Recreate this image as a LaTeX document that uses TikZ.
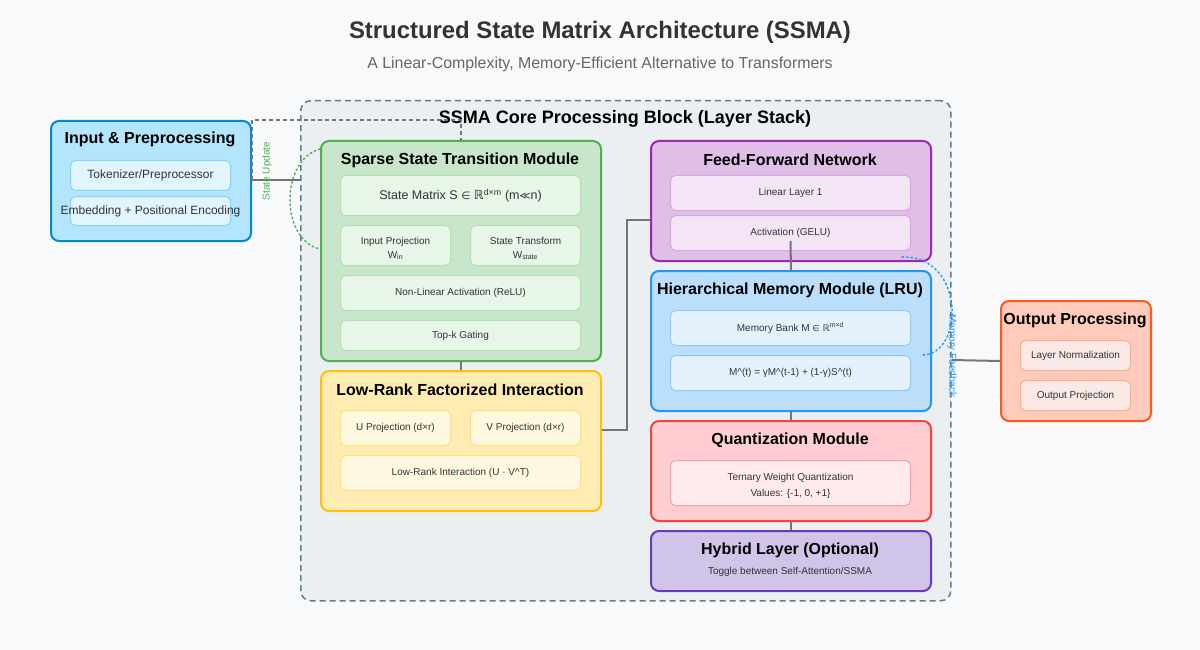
\documentclass[tikz,border=0pt]{standalone}
\usepackage{fontspec}
\setmainfont{Liberation Sans}
\newfontfamily\symf{DejaVu Sans}
\usetikzlibrary{calc}
\definecolor{bg}{HTML}{F8F9FA}
\definecolor{corefill}{HTML}{ECEFF1}
\definecolor{coreline}{HTML}{607D8B}
\definecolor{conn}{HTML}{757575}
\definecolor{ttlc}{HTML}{333333}
\definecolor{subc}{HTML}{666666}
\definecolor{inF}{HTML}{B3E5FC}\definecolor{inL}{HTML}{0288D1}\definecolor{inSF}{HTML}{E1F5FE}\definecolor{inSL}{HTML}{81D4FA}
\definecolor{grF}{HTML}{C8E6C9}\definecolor{grL}{HTML}{4CAF50}\definecolor{grSF}{HTML}{E8F5E9}\definecolor{grSL}{HTML}{B2DFB4}
\definecolor{yeF}{HTML}{FFECB3}\definecolor{yeL}{HTML}{FFC107}\definecolor{yeSF}{HTML}{FFF8E1}\definecolor{yeSL}{HTML}{FFE082}
\definecolor{puF}{HTML}{E1BEE7}\definecolor{puL}{HTML}{9C27B0}\definecolor{puSF}{HTML}{F3E5F5}\definecolor{puSL}{HTML}{D7A8E0}
\definecolor{blF}{HTML}{BBDEFB}\definecolor{blL}{HTML}{2196F3}\definecolor{blSF}{HTML}{E3F2FD}\definecolor{blSL}{HTML}{90CAF9}
\definecolor{reF}{HTML}{FFCDD2}\definecolor{reL}{HTML}{F44336}\definecolor{reSF}{HTML}{FFEBEE}\definecolor{reSL}{HTML}{F3A0A6}
\definecolor{hyF}{HTML}{D1C4E9}\definecolor{hyL}{HTML}{673AB7}
\definecolor{ouF}{HTML}{FFCCBC}\definecolor{ouL}{HTML}{FF5722}\definecolor{ouSF}{HTML}{FBE9E7}\definecolor{ouSL}{HTML}{FFAB91}
\tikzset{
  modbox/.style={draw, line width=2pt, rounded corners=8pt, inner sep=0pt, anchor=north west},
  subbox/.style={draw, line width=1pt, rounded corners=5pt, inner sep=0pt, anchor=north west, align=center, text=ttlc, font=\fontsize{10}{14}\selectfont},
  subtxt/.style={inner sep=0pt, align=center, text=ttlc, font=\fontsize{10}{14}\selectfont},
  modttl/.style={font=\bfseries\fontsize{16}{19}\selectfont, text=black, inner sep=0pt},
  link/.style={draw=conn, line width=2pt},
}
\begin{document}
\begin{tikzpicture}[x=1pt,y=-1pt]
\useasboundingbox (0,0) rectangle (1200,650);
\fill[bg] (0,0) rectangle (1200,650);
% titles
\node[font=\bfseries\fontsize{23.9}{28}\selectfont, text=ttlc] (title) at (600,32) {Structured State Matrix Architecture (SSMA)};
\node[font=\fontsize{15.9}{19}\selectfont, text=subc] (subtitle) at (600,64) {A Linear-Complexity, Memory-Efficient Alternative to Transformers};
% core block
\node[draw=coreline, fill=corefill, line width=1.5pt, dash pattern=on 6pt off 4pt, rounded corners=10pt, minimum width=650pt, minimum height=500pt, anchor=north west, inner sep=0pt] (core) at (300,100) {};
% input
\node[modbox, draw=inL, fill=inF, minimum width=200pt, minimum height=120pt] (inp) at (50,120) {};
\node[modttl] (inpT) at (150,139) {Input \& Preprocessing};
\node[subbox, draw=inSL, fill=inSF, minimum width=160pt, minimum height=30pt, font=\fontsize{12}{14}\selectfont] (tok) at (70,160) {Tokenizer/Preprocessor};
\node[subbox, draw=inSL, fill=inSF, minimum width=160pt, minimum height=29pt] (emb) at (70,196) {};
\node[font=\fontsize{12}{14}\selectfont, text=ttlc, inner sep=0pt] (embT) at (emb.center) {Embedding + Positional Encoding};
% core title
\node[font=\bfseries\fontsize{18}{21}\selectfont, text=black, inner sep=0pt] (coreT) at (625,119) {SSMA Core Processing Block (Layer Stack)};
% green
\node[modbox, draw=grL, fill=grF, minimum width=280pt, minimum height=220pt] (sst) at (320,140) {};
\node[modttl] (sstT) at (460,160) {Sparse State Transition Module};
\node[subbox, draw=grSL, fill=grSF, minimum width=240pt, minimum height=40pt, font=\fontsize{12.5}{14}\selectfont] (smat) at (340,175) {State Matrix S {\symf\fontsize{10.5}{12}\selectfont ∈} {\symf ℝ}\textsuperscript{d×m} (m{\symf\fontsize{10.5}{12}\selectfont ≪}n)};
\node[subbox, draw=grSL, fill=grSF, minimum width=110pt, minimum height=40pt] (inproj) at (340,225) {};
\node[subtxt] (inprojT) at ($(inproj.center)+(0,3)$) {Input Projection\\W\textsubscript{in}};
\node[subbox, draw=grSL, fill=grSF, minimum width=110pt, minimum height=40pt] (stf) at (470,225) {};
\node[subtxt] (stfT) at ($(stf.center)+(0,3)$) {State Transform\\W\textsubscript{state}};
\node[subbox, draw=grSL, fill=grSF, minimum width=240pt, minimum height=35pt] (relu) at (340,275) {Non-Linear Activation (ReLU)};
\node[subbox, draw=grSL, fill=grSF, minimum width=240pt, minimum height=30pt] (topk) at (340,320) {Top-k Gating};
% yellow
\node[modbox, draw=yeL, fill=yeF, minimum width=280pt, minimum height=140pt] (lrf) at (320,370) {};
\node[modttl] (lrfT) at (460,390) {Low-Rank Factorized Interaction};
\node[subbox, draw=yeSL, fill=yeSF, minimum width=110pt, minimum height=35pt] (uproj) at (340,410) {U Projection (d×r)};
\node[subbox, draw=yeSL, fill=yeSF, minimum width=110pt, minimum height=35pt] (vproj) at (470,410) {V Projection (d×r)};
\node[subbox, draw=yeSL, fill=yeSF, minimum width=240pt, minimum height=35pt] (lri) at (340,455) {Low-Rank Interaction (U · V\^{}T)};
% purple FFN
\node[modbox, draw=puL, fill=puF, minimum width=280pt, minimum height=120pt] (ffn) at (650,140) {};
\node[modttl] (ffnT) at (790,160) {Feed-Forward Network};
\node[subbox, draw=puSL, fill=puSF, minimum width=240pt, minimum height=35pt] (lin) at (670,175) {Linear Layer 1};
\node[subbox, draw=puSL, fill=puSF, minimum width=240pt, minimum height=35pt] (act) at (670,215) {Activation (GELU)};
% blue memory
\node[modbox, draw=blL, fill=blF, minimum width=280pt, minimum height=140pt] (mem) at (650,270) {};
\node[modttl] (memT) at (790,290) {Hierarchical Memory Module (LRU)};
\node[subbox, draw=blSL, fill=blSF, minimum width=240pt, minimum height=35pt] (bank) at (670,310) {Memory Bank M {\symf\fontsize{8.5}{10}\selectfont ∈} {\symf\fontsize{9}{10}\selectfont ℝ}\textsuperscript{m×d}};
\node[subbox, draw=blSL, fill=blSF, minimum width=240pt, minimum height=35pt] (upd) at (670,355) {M\^{}(t) = γM\^{}(t-1) + (1-γ)S\^{}(t)};
% red quant
\node[modbox, draw=reL, fill=reF, minimum width=280pt, minimum height=100pt] (qnt) at (650,420) {};
\node[modttl] (qntT) at (790,440) {Quantization Module};
\node[subbox, draw=reSL, fill=reSF, minimum width=240pt, minimum height=45pt] (tern) at (670,460) {};
\node[subtxt, font=\fontsize{10}{16}\selectfont] (ternT) at ($(tern.center)+(0,2.5)$) {Ternary Weight Quantization\\Values: \{-1, 0, +1\}};
% hybrid
\node[modbox, draw=hyL, fill=hyF, minimum width=280pt, minimum height=60pt] (hyb) at (650,530) {};
\node[modttl] (hybT) at (790,550) {Hybrid Layer (Optional)};
\node[font=\fontsize{10}{12}\selectfont, text=ttlc, inner sep=0pt] (hybS) at (790,572) {Toggle between Self-Attention/SSMA};
% output
\node[modbox, draw=ouL, fill=ouF, minimum width=150pt, minimum height=120pt] (outp) at (1000,300) {};
\node[modttl] (outT) at (1075,320) {Output Processing};
\node[subbox, draw=ouSL, fill=ouSF, minimum width=110pt, minimum height=30pt] (lnorm) at (1020,340) {Layer Normalization};
\node[subbox, draw=ouSL, fill=ouSF, minimum width=110pt, minimum height=30pt] (oproj) at (1020,380) {Output Projection};
% connectors
\draw[link] ($(inp.north east)+(0,60)$) -- ($(core.north west)+(0,80)$);
\draw[conn, line width=1.5pt, dash pattern=on 4pt off 3pt] ($(inp.north east)+(0,60)$) -- (inp.north east) -- (inp.north east -| sst.north) -- (sst.north);
\draw[link] (sst.south) -- (lrf.north);
\draw[link] ($(lrf.north east)+(0,60)$) -- ++(25,0) |- ($(ffn.north west)+(0,80)$);
\draw[link] ($(act.south)+(0,-10)$) -- (mem.north);
\draw[link] (mem.south) -- (qnt.north);
\draw[link] (qnt.south) -- (hyb.south |- hyb.north);
\draw[link] ($(core.north east)+(0,260)$) -- (outp.west);
% feedback arcs
\draw[grL, line width=1.5pt, dash pattern=on 1.5pt off 3pt, line cap=round] ($(sst.north west)+(0,9)$) .. controls (280,160) and (280,240) .. ($(sst.north west)+(0,109)$);
\node[rotate=90, font=\fontsize{10}{12}\selectfont, text=grL, inner sep=0pt] (suL) at (267,171) {State Update};
\draw[blL, line width=1.5pt, dash pattern=on 1.5pt off 3pt, line cap=round] ($(ffn.south east)+(-30,-5)$) .. controls (965,255) and (965,355) .. ($(mem.north east)+(-10,85)$);
\node[rotate=-90, font=\fontsize{10}{12}\selectfont, text=blL, inner sep=0pt] (mfL) at (952,356) {Memory Feedback};
\end{tikzpicture}
\end{document}
